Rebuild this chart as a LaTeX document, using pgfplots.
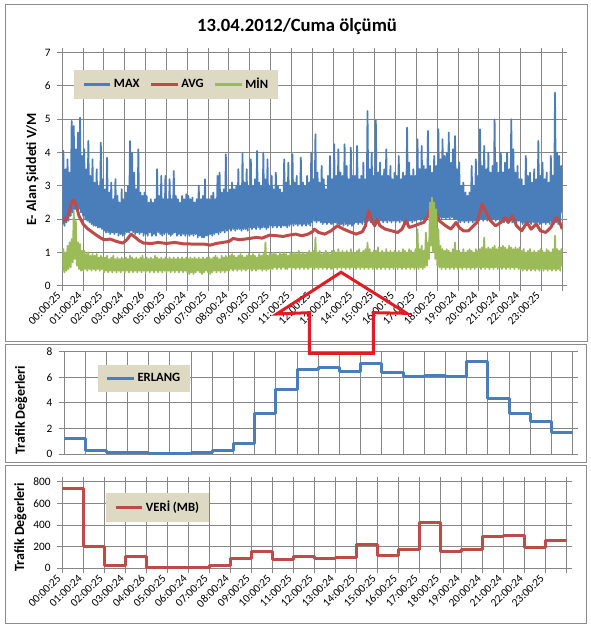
\documentclass[border=0pt]{standalone}
\usepackage{fontspec}
\setmainfont{Carlito}
\usepackage{pgfplots}
\pgfplotsset{compat=1.18}

\definecolor{cblue}{HTML}{4A7EBB}
\definecolor{cred}{HTML}{BE4B48}
\definecolor{cgreen}{HTML}{9BBB59}
\definecolor{legbg}{HTML}{DDD9C3}
\definecolor{gridc}{HTML}{868686}
\definecolor{framec}{HTML}{8C8C8C}
\definecolor{arrowred}{HTML}{E31B23}

\pgfplotsset{
  panel/.style={
    scale only axis,
    xmin=0, xmax=24,
    xtick={0,...,24},
    grid=major,
    major grid style={gridc, line width=0.75pt},
    axis line style={gridc, line width=0.75pt},
    tick style={gridc, line width=0.75pt},
    tick align=outside,
    major tick length=3.75pt,
    tick label style={font=\fontsize{8.5}{10}\selectfont, black},
    /pgf/number format/assume math mode=true,
    yticklabel style={xshift=-1.5pt},
    legend cell align=left,
    legend image code/.code={\draw[##1, line width=2.25pt] (0pt,0pt) -- (20pt,0pt);},
    legend style={fill=legbg, draw=none, font=\bfseries\fontsize{9.5}{11}\selectfont,
      anchor=north west, inner xsep=6pt, inner ysep=4pt,
      nodes={inner xsep=1.5pt},
      /tikz/every even column/.append style={column sep=6pt}},
    ylabel style={font=\bfseries\fontsize{10.5}{12}\selectfont, anchor=center},
  },
  timelabels/.style={
    xticklabels={00:00:25,01:00:24,02:00:25,03:00:24,04:00:26,05:00:25,06:00:24,07:00:25,08:00:24,09:00:25,10:00:25,11:00:25,12:00:25,13:00:24,14:00:25,15:00:25,16:00:25,17:00:25,18:00:25,19:00:24,20:00:24,21:00:24,22:00:24,23:00:25,{}},
    xticklabel style={rotate=45, anchor=east, font=\fontsize{8.5}{10}\selectfont},
  },
}

\begin{document}
\begin{tikzpicture}
\path[use as bounding box] (0,0) rectangle (443.25pt,-471pt);
\fill[white] (0,0) rectangle (443.25pt,-471pt);
\draw[framec, line width=0.75pt] (3.75pt,-3pt) rectangle (440.25pt,-255.75pt);
\draw[framec, line width=0.75pt] (3.75pt,-258pt) rectangle (439.5pt,-346.5pt);
\draw[framec, line width=0.75pt] (3.75pt,-348.75pt) rectangle (439.5pt,-467.25pt);

\node[font=\bfseries\fontsize{14}{16}\selectfont] at (222.75pt,-20.25pt) {13.04.2012/Cuma ölçümü};

% ---------------- Panel 1 ----------------
\begin{axis}[panel, timelabels,
  at={(46.725pt,-214.275pt)}, anchor=south west,
  width=375pt, height=174.75pt,
  ymin=0, ymax=7, ytick={0,...,7},
  ylabel={E- Alan Şiddeti V/M},
  ylabel style={at={(axis description cs:-0.06,0.5)}},
  legend columns=3,
  legend style={at={(0.0234,0.926)}},
]
\addplot[cblue, line width=1.3pt, line join=round] coordinates {
(0,1.85)(0.05,4.05)(0.1,1.8)(0.15,3.5)(0.2,1.9)(0.25,3.8)(0.3,1.95)(0.35,3.4)(0.4,2.1)(0.45,4.95)(0.5,2.2)(0.55,4.8)(0.6,2.3)(0.65,4.1)(0.7,2.25)(0.75,4.6)(0.8,2.3)(0.85,5.05)(0.9,2.2)(0.95,3.9)
(1,2.1)(1.05,4.1)(1.1,2.0)(1.15,3.5)(1.2,1.95)(1.25,4.35)(1.3,1.9)(1.35,3.3)(1.4,1.85)(1.45,3.8)(1.5,1.8)(1.55,3.1)(1.6,1.8)(1.65,3.5)(1.7,1.75)(1.75,3.0)(1.8,1.75)(1.85,4.3)(1.9,1.7)(1.95,3.2)
(2,1.65)(2.05,2.9)(2.1,1.6)(2.15,3.85)(2.2,1.6)(2.25,2.8)(2.3,1.55)(2.35,3.1)(2.4,1.6)(2.45,2.6)(2.5,1.55)(2.55,3.2)(2.6,1.6)(2.65,2.7)(2.7,1.5)(2.75,2.5)(2.8,1.55)(2.85,2.9)(2.9,1.5)(2.95,2.6)
(3,1.55)(3.05,2.8)(3.1,1.6)(3.15,3.0)(3.2,1.6)(3.25,4.35)(3.3,1.65)(3.35,4.0)(3.4,1.6)(3.45,3.4)(3.5,1.55)(3.55,2.9)(3.6,1.6)(3.65,4.1)(3.7,1.55)(3.75,2.8)(3.8,1.6)(3.85,2.7)(3.9,1.5)(3.95,2.8)
(4,1.55)(4.05,2.7)(4.1,1.5)(4.15,2.5)(4.2,1.6)(4.25,2.6)(4.3,1.5)(4.35,2.5)(4.4,1.55)(4.45,2.6)(4.5,1.5)(4.55,3.5)(4.6,1.6)(4.65,2.7)(4.7,1.55)(4.75,3.3)(4.8,1.5)(4.85,2.6)(4.9,1.55)(4.95,3.3)
(5,1.6)(5.05,2.6)(5.1,1.55)(5.15,3.2)(5.2,1.5)(5.25,2.6)(5.3,1.55)(5.35,3.45)(5.4,1.6)(5.45,2.7)(5.5,1.5)(5.55,2.6)(5.6,1.55)(5.65,2.5)(5.7,1.5)(5.75,2.7)(5.8,1.55)(5.85,2.6)(5.9,1.5)(5.95,2.75)
(6,1.55)(6.05,2.7)(6.1,1.5)(6.15,2.6)(6.2,1.55)(6.25,2.65)(6.3,1.5)(6.35,2.5)(6.4,1.55)(6.45,2.6)(6.5,1.45)(6.55,3.0)(6.6,1.5)(6.65,2.6)(6.7,1.45)(6.75,2.7)(6.8,1.45)(6.85,3.2)(6.9,1.5)(6.95,2.6)
(7,1.5)(7.05,2.6)(7.1,1.55)(7.15,2.7)(7.2,1.5)(7.25,2.8)(7.3,1.55)(7.35,2.6)(7.4,1.6)(7.45,3.3)(7.5,1.55)(7.55,3.4)(7.6,1.6)(7.65,2.8)(7.7,1.65)(7.75,2.9)(7.8,1.6)(7.85,3.95)(7.9,1.65)(7.95,2.8)
(8,1.7)(8.05,2.9)(8.1,1.65)(8.15,3.1)(8.2,1.7)(8.25,2.9)(8.3,1.65)(8.35,3.0)(8.4,1.7)(8.45,3.5)(8.5,1.7)(8.55,3.0)(8.6,1.65)(8.65,3.97)(8.7,1.7)(8.75,3.1)(8.8,1.7)(8.85,3.5)(8.9,1.65)(8.95,3.0)
(9,1.75)(9.05,3.8)(9.1,1.7)(9.15,3.0)(9.2,1.75)(9.25,3.2)(9.3,1.7)(9.35,4.05)(9.4,1.75)(9.45,3.1)(9.5,1.7)(9.55,3.0)(9.6,1.75)(9.65,4.0)(9.7,1.75)(9.75,3.2)(9.8,1.7)(9.85,3.8)(9.9,1.75)(9.95,3.0)
(10,1.8)(10.05,3.3)(10.1,1.75)(10.15,2.9)(10.2,1.8)(10.25,3.4)(10.3,1.75)(10.35,3.0)(10.4,1.8)(10.45,2.9)(10.5,1.75)(10.55,2.8)(10.6,1.8)(10.65,3.8)(10.7,1.8)(10.75,3.1)(10.8,1.75)(10.85,3.7)(10.9,1.8)(10.95,3.0)
(11,1.85)(11.05,3.95)(11.1,1.8)(11.15,3.1)(11.2,1.85)(11.25,3.3)(11.3,1.8)(11.35,3.0)(11.4,1.85)(11.45,3.85)(11.5,1.8)(11.55,3.1)(11.6,1.85)(11.65,3.0)(11.7,1.8)(11.75,3.3)(11.8,1.85)(11.85,3.1)(11.9,1.8)(11.95,4.0)
(12,1.9)(12.05,3.2)(12.1,1.95)(12.15,4.55)(12.2,1.9)(12.25,3.4)(12.3,1.95)(12.35,3.1)(12.4,1.9)(12.45,3.6)(12.5,1.85)(12.55,3.2)(12.6,1.9)(12.65,2.9)(12.7,1.85)(12.75,3.3)(12.8,1.9)(12.85,3.9)(12.9,1.85)(12.95,3.2)
(13,1.85)(13.05,4.25)(13.1,1.9)(13.15,3.3)(13.2,1.85)(13.25,4.1)(13.3,1.8)(13.35,3.4)(13.4,1.85)(13.45,3.3)(13.5,1.8)(13.55,4.25)(13.6,1.85)(13.65,3.6)(13.7,1.8)(13.75,3.2)(13.8,1.85)(13.85,4.15)(13.9,1.8)(13.95,3.3)
(14,1.85)(14.05,3.3)(14.1,1.9)(14.15,4.2)(14.2,1.85)(14.25,3.2)(14.3,1.9)(14.35,3.3)(14.4,1.85)(14.45,3.7)(14.5,1.9)(14.55,3.2)(14.6,1.95)(14.65,5.25)(14.7,1.95)(14.75,3.5)(14.8,1.9)(14.85,4.0)(14.9,1.95)(14.95,3.3)
(15,1.9)(15.05,4.97)(15.1,1.95)(15.15,3.4)(15.2,1.9)(15.25,3.7)(15.3,1.95)(15.35,3.3)(15.4,1.9)(15.45,3.5)(15.5,1.95)(15.55,4.1)(15.6,1.9)(15.65,3.3)(15.7,1.95)(15.75,3.6)(15.8,1.9)(15.85,3.2)(15.9,1.95)(15.95,3.4)
(16,1.9)(16.05,3.3)(16.1,1.95)(16.15,3.9)(16.2,1.9)(16.25,3.2)(16.3,1.95)(16.35,3.4)(16.4,1.9)(16.45,3.3)(16.5,1.95)(16.55,4.75)(16.6,1.9)(16.65,3.7)(16.7,1.95)(16.75,3.3)(16.8,1.9)(16.85,3.5)(16.9,1.95)(16.95,3.3)
(17,1.95)(17.05,4.4)(17.1,2.0)(17.15,3.5)(17.2,1.95)(17.25,4.2)(17.3,2.0)(17.35,3.6)(17.4,1.95)(17.45,3.5)(17.5,2.0)(17.55,4.65)(17.6,2.05)(17.65,3.6)(17.7,2.0)(17.75,3.4)(17.8,2.05)(17.85,3.9)(17.9,2.0)(17.95,3.6)
(18,2.0)(18.05,4.7)(18.1,2.05)(18.15,3.8)(18.2,2.0)(18.25,4.4)(18.3,2.05)(18.35,3.9)(18.4,2.0)(18.45,4.0)(18.5,2.05)(18.55,4.6)(18.6,2.0)(18.65,3.7)(18.7,2.05)(18.75,4.1)(18.8,2.0)(18.85,4.5)(18.9,2.0)(18.95,3.5)
(19,1.95)(19.05,3.7)(19.1,1.9)(19.15,3.0)(19.2,1.95)(19.25,3.1)(19.3,1.9)(19.35,2.8)(19.4,1.95)(19.45,2.7)(19.5,1.9)(19.55,2.8)(19.6,1.95)(19.65,3.6)(19.7,1.9)(19.75,3.0)(19.8,1.95)(19.85,3.8)(19.9,1.9)(19.95,3.3)
(20,1.95)(20.05,4.7)(20.1,2.0)(20.15,3.6)(20.2,1.95)(20.25,4.2)(20.3,2.0)(20.35,3.5)(20.4,1.95)(20.45,4.0)(20.5,2.0)(20.55,3.4)(20.6,1.95)(20.65,3.6)(20.7,2.0)(20.75,5.0)(20.8,1.95)(20.85,3.7)(20.9,2.0)(20.95,3.4)
(21,1.9)(21.05,4.0)(21.1,1.95)(21.15,3.4)(21.2,1.9)(21.25,3.7)(21.3,1.95)(21.35,4.0)(21.4,1.9)(21.45,3.5)(21.5,1.95)(21.55,5.0)(21.6,1.9)(21.65,4.1)(21.7,1.95)(21.75,3.4)(21.8,1.9)(21.85,3.6)(21.9,1.95)(21.95,3.2)
(22,1.9)(22.05,3.2)(22.1,1.85)(22.15,3.0)(22.2,1.9)(22.25,3.9)(22.3,1.85)(22.35,3.3)(22.4,1.9)(22.45,3.4)(22.5,1.85)(22.55,3.1)(22.6,1.9)(22.65,3.5)(22.7,1.85)(22.75,3.2)(22.8,1.9)(22.85,4.35)(22.9,1.85)(22.95,3.3)
(23,1.85)(23.05,3.7)(23.1,1.9)(23.15,3.2)(23.2,1.85)(23.25,3.4)(23.3,1.9)(23.35,3.1)(23.4,1.85)(23.45,3.9)(23.5,1.9)(23.55,3.3)(23.6,1.85)(23.65,5.8)(23.7,1.9)(23.75,4.0)(23.8,1.85)(23.85,3.9)(23.9,1.9)(23.95,3.6)(24,2.2)
};
\addlegendentry{MAX}
\addplot[cred, line width=2.25pt, line join=round] coordinates {
(0,2.0)(0.15,1.95)(0.3,2.15)(0.45,2.5)(0.55,2.58)(0.65,2.45)(0.8,2.1)(1.0,1.85)(1.2,1.72)(1.5,1.58)
(1.8,1.45)(2.0,1.38)(2.3,1.4)(2.6,1.33)(2.9,1.28)(3.1,1.38)(3.3,1.55)(3.45,1.48)(3.7,1.35)(3.9,1.28)
(4.3,1.27)(4.6,1.3)(5.0,1.27)(5.4,1.3)(5.8,1.26)(6.3,1.25)(6.8,1.25)(7.1,1.22)(7.4,1.27)(7.7,1.3)
(8.0,1.33)(8.2,1.42)(8.5,1.38)(9.0,1.42)(9.3,1.45)(9.6,1.43)(9.95,1.52)(10.3,1.5)(10.6,1.48)(10.9,1.52)
(11.2,1.55)(11.5,1.5)(11.8,1.55)(12.0,1.62)(12.1,1.7)(12.3,1.6)(12.6,1.55)(12.9,1.65)(13.2,1.8)(13.5,1.7)
(13.8,1.62)(14.1,1.55)(14.4,1.62)(14.55,1.8)(14.7,2.25)(14.85,1.95)(15.0,1.8)(15.1,2.0)(15.25,1.8)(15.5,1.7)
(15.8,1.65)(16.1,1.6)(16.3,1.7)(16.5,1.95)(16.65,1.75)(16.9,1.8)(17.1,1.85)(17.35,1.9)(17.55,2.1)(17.7,2.4)
(17.85,2.3)(18.0,2.1)(18.1,1.95)(18.4,1.8)(18.65,1.7)(18.9,1.9)(19.05,1.75)(19.25,1.65)(19.5,1.65)(19.65,1.75)
(19.9,1.9)(20.15,2.45)(20.35,2.2)(20.55,1.95)(20.8,1.8)(21.05,1.9)(21.25,2.05)(21.4,1.9)(21.6,2.1)(21.8,1.8)
(22.05,1.65)(22.3,1.9)(22.5,1.7)(22.75,1.85)(22.95,1.65)(23.2,1.6)(23.45,1.75)(23.7,2.05)(23.85,1.95)(24,1.7)
};
\addlegendentry{AVG}
\addplot[cgreen, line width=1.3pt, line join=round] coordinates {
(0,0.45)(0.05,1.1)(0.1,0.4)(0.15,1.0)(0.2,0.45)(0.25,1.2)(0.3,0.5)(0.35,1.3)(0.4,0.55)(0.45,1.4)(0.5,0.7)(0.55,2.25)(0.6,0.8)(0.65,1.95)(0.7,0.6)(0.75,1.3)(0.8,0.5)(0.85,1.25)(0.9,0.45)(0.95,1.05)
(1,0.45)(1.05,1.05)(1.1,0.5)(1.15,0.95)(1.2,0.45)(1.25,1.0)(1.3,0.5)(1.35,0.9)(1.4,0.45)(1.45,0.95)(1.5,0.5)(1.55,0.9)(1.6,0.45)(1.65,0.95)(1.7,0.5)(1.75,0.85)(1.8,0.45)(1.85,0.9)(1.9,0.5)(1.95,0.85)
(2,0.4)(2.05,0.85)(2.1,0.45)(2.15,0.9)(2.2,0.4)(2.25,0.8)(2.3,0.45)(2.35,0.85)(2.4,0.4)(2.45,0.9)(2.5,0.45)(2.55,0.8)(2.6,0.4)(2.65,0.85)(2.7,0.45)(2.75,0.8)(2.8,0.4)(2.85,0.85)(2.9,0.45)(2.95,0.8)
(3,0.4)(3.05,0.85)(3.1,0.45)(3.15,0.8)(3.2,0.4)(3.25,0.9)(3.3,0.45)(3.35,0.85)(3.4,0.4)(3.45,0.8)(3.5,0.45)(3.55,0.85)(3.6,0.4)(3.65,0.8)(3.7,0.45)(3.75,0.85)(3.8,0.4)(3.85,0.9)(3.9,0.45)(3.95,0.8)
(4,0.4)(4.05,0.85)(4.1,0.45)(4.15,0.8)(4.2,0.4)(4.25,0.85)(4.3,0.45)(4.35,0.8)(4.4,0.4)(4.45,0.9)(4.5,0.45)(4.55,0.85)(4.6,0.4)(4.65,0.8)(4.7,0.45)(4.75,0.85)(4.8,0.4)(4.85,0.8)(4.9,0.45)(4.95,0.85)
(5,0.4)(5.05,0.8)(5.1,0.45)(5.15,0.85)(5.2,0.4)(5.25,0.8)(5.3,0.45)(5.35,0.85)(5.4,0.4)(5.45,0.8)(5.5,0.45)(5.55,0.85)(5.6,0.4)(5.65,0.8)(5.7,0.45)(5.75,0.85)(5.8,0.4)(5.85,0.8)(5.9,0.45)(5.95,0.85)
(6,0.4)(6.05,0.8)(6.1,0.35)(6.15,0.85)(6.2,0.4)(6.25,0.8)(6.3,0.35)(6.35,0.85)(6.4,0.4)(6.45,0.8)(6.5,0.45)(6.55,0.85)(6.6,0.4)(6.65,0.8)(6.7,0.35)(6.75,0.85)(6.8,0.4)(6.85,0.8)(6.9,0.45)(6.95,0.85)
(7,0.4)(7.05,0.85)(7.1,0.35)(7.15,0.8)(7.2,0.4)(7.25,0.85)(7.3,0.45)(7.35,0.9)(7.4,0.4)(7.45,0.85)(7.5,0.45)(7.55,0.8)(7.6,0.4)(7.65,0.9)(7.7,0.45)(7.75,0.85)(7.8,0.4)(7.85,0.9)(7.9,0.45)(7.95,0.85)
(8,0.45)(8.05,0.9)(8.1,0.5)(8.15,0.95)(8.2,0.45)(8.25,0.9)(8.3,0.5)(8.35,0.85)(8.4,0.45)(8.45,0.9)(8.5,0.5)(8.55,0.95)(8.6,0.45)(8.65,0.9)(8.7,0.5)(8.75,0.85)(8.8,0.45)(8.85,0.9)(8.9,0.5)(8.95,0.95)
(9,0.5)(9.05,0.9)(9.1,0.45)(9.15,0.95)(9.2,0.5)(9.25,0.9)(9.3,0.45)(9.35,0.85)(9.4,0.5)(9.45,0.95)(9.5,0.5)(9.55,0.9)(9.6,0.45)(9.65,0.95)(9.7,0.5)(9.75,1.3)(9.8,0.45)(9.85,0.9)(9.9,0.5)(9.95,0.95)
(10,0.5)(10.05,0.95)(10.1,0.5)(10.15,1.0)(10.2,0.55)(10.25,0.95)(10.3,0.5)(10.35,0.9)(10.4,0.55)(10.45,1.0)(10.5,0.5)(10.55,0.95)(10.6,0.55)(10.65,1.0)(10.7,0.5)(10.75,0.95)(10.8,0.5)(10.85,0.9)(10.9,0.55)(10.95,1.0)
(11,0.5)(11.05,0.95)(11.1,0.55)(11.15,1.0)(11.2,0.5)(11.25,0.95)(11.3,0.55)(11.35,1.05)(11.4,0.5)(11.45,0.95)(11.5,0.55)(11.55,1.0)(11.6,0.5)(11.65,0.95)(11.7,0.55)(11.75,1.0)(11.8,0.5)(11.85,1.05)(11.9,0.55)(11.95,1.0)
(12,0.55)(12.05,1.05)(12.1,0.5)(12.15,1.45)(12.2,0.55)(12.25,1.0)(12.3,0.5)(12.35,1.05)(12.4,0.55)(12.45,0.95)(12.5,0.5)(12.55,1.0)(12.6,0.55)(12.65,1.05)(12.7,0.5)(12.75,1.0)(12.8,0.55)(12.85,0.95)(12.9,0.5)(12.95,1.05)
(13,0.5)(13.05,1.05)(13.1,0.55)(13.15,1.0)(13.2,0.5)(13.25,1.1)(13.3,0.55)(13.35,1.0)(13.4,0.5)(13.45,1.05)(13.5,0.55)(13.55,1.0)(13.6,0.5)(13.65,1.05)(13.7,0.55)(13.75,1.0)(13.8,0.5)(13.85,1.1)(13.9,0.55)(13.95,1.0)
(14,0.55)(14.05,1.0)(14.1,0.5)(14.15,1.05)(14.2,0.55)(14.25,1.1)(14.3,0.5)(14.35,1.0)(14.4,0.55)(14.45,1.05)(14.5,0.5)(14.55,1.1)(14.6,0.55)(14.65,1.3)(14.7,0.5)(14.75,1.1)(14.8,0.55)(14.85,1.0)(14.9,0.5)(14.95,1.05)
(15,0.55)(15.05,1.05)(15.1,0.5)(15.15,1.15)(15.2,0.55)(15.25,1.0)(15.3,0.5)(15.35,1.05)(15.4,0.55)(15.45,1.0)(15.5,0.5)(15.55,1.1)(15.6,0.55)(15.65,1.0)(15.7,0.5)(15.75,1.05)(15.8,0.55)(15.85,1.0)(15.9,0.5)(15.95,1.05)
(16,0.55)(16.05,1.0)(16.1,0.5)(16.15,1.05)(16.2,0.55)(16.25,1.0)(16.3,0.5)(16.35,1.1)(16.4,0.55)(16.45,1.05)(16.5,0.5)(16.55,1.0)(16.6,0.55)(16.65,1.1)(16.7,0.5)(16.75,1.05)(16.8,0.55)(16.85,1.0)(16.9,0.5)(16.95,1.1)
(17,0.55)(17.05,1.7)(17.1,0.5)(17.15,1.1)(17.2,0.55)(17.25,1.2)(17.3,0.5)(17.35,1.05)(17.4,0.55)(17.45,1.6)(17.5,0.6)(17.55,1.3)(17.6,0.8)(17.65,2.5)(17.7,1.2)(17.75,2.65)(17.8,1.0)(17.85,2.5)(17.9,0.8)(17.95,2.3)
(18,0.6)(18.05,1.7)(18.1,0.55)(18.15,1.2)(18.2,0.5)(18.25,1.1)(18.3,0.55)(18.35,1.05)(18.4,0.5)(18.45,1.1)(18.5,0.55)(18.55,1.05)(18.6,0.5)(18.65,1.0)(18.7,0.55)(18.75,1.1)(18.8,0.5)(18.85,1.3)(18.9,0.55)(18.95,1.05)
(19,0.5)(19.05,1.05)(19.1,0.55)(19.15,1.0)(19.2,0.5)(19.25,1.1)(19.3,0.55)(19.35,1.0)(19.4,0.5)(19.45,1.05)(19.5,0.55)(19.55,1.1)(19.6,0.5)(19.65,1.05)(19.7,0.55)(19.75,1.0)(19.8,0.5)(19.85,1.1)(19.9,0.55)(19.95,1.05)
(20,0.55)(20.05,1.1)(20.1,0.5)(20.15,1.15)(20.2,0.55)(20.25,1.45)(20.3,0.5)(20.35,1.1)(20.4,0.55)(20.45,1.15)(20.5,0.5)(20.55,1.1)(20.6,0.55)(20.65,1.15)(20.7,0.5)(20.75,1.2)(20.8,0.55)(20.85,1.1)(20.9,0.5)(20.95,1.15)
(21,0.55)(21.05,1.15)(21.1,0.5)(21.15,1.2)(21.2,0.55)(21.25,1.15)(21.3,0.5)(21.35,1.1)(21.4,0.55)(21.45,1.2)(21.5,0.5)(21.55,1.15)(21.6,0.55)(21.65,1.1)(21.7,0.5)(21.75,1.15)(21.8,0.55)(21.85,1.1)(21.9,0.5)(21.95,1.15)
(22,0.5)(22.05,1.05)(22.1,0.45)(22.15,1.1)(22.2,0.5)(22.25,1.0)(22.3,0.45)(22.35,1.05)(22.4,0.5)(22.45,1.1)(22.5,0.45)(22.55,1.0)(22.6,0.5)(22.65,1.05)(22.7,0.45)(22.75,1.0)(22.8,0.5)(22.85,1.05)(22.9,0.45)(22.95,1.1)
(23,0.5)(23.05,1.05)(23.1,0.45)(23.15,1.0)(23.2,0.5)(23.25,1.1)(23.3,0.45)(23.35,1.05)(23.4,0.5)(23.45,1.0)(23.5,0.45)(23.55,1.1)(23.6,0.5)(23.65,1.5)(23.7,0.45)(23.75,1.1)(23.8,0.5)(23.85,1.05)(23.9,0.45)(23.95,1.1)(24,0.6)
};
\addlegendentry{MİN}
\end{axis}

% ---------------- Panel 2 ----------------
\begin{axis}[panel,
  at={(48pt,-340.5pt)}, anchor=south west,
  width=381.5pt, height=76.7pt,
  ymin=0, ymax=8, ytick={0,2,...,8},
  xmajorticks=false,
  ylabel={Trafik Değerleri},
  ylabel style={at={(axis description cs:-0.0845,0.43)}},
  legend style={at={(0.066,0.87)}},
]
\addplot[cblue, line width=2.25pt, const plot, line join=round] coordinates {
(0,1.25)(1,0.25)(2,0.08)(3,0.12)(4,0.07)(5,0.03)(6,0.12)(7,0.25)(8,0.85)(9,3.2)
(10,5.05)(11,6.6)(12,6.75)(13,6.45)(14,7.08)(15,6.35)(16,6.1)(17,6.15)(18,6.1)(19,7.25)
(20,4.35)(21,3.2)(22,2.58)(23,1.7)(24,1.7)
};
\addlegendentry{ERLANG}
\end{axis}

% ---------------- Panel 3 ----------------
\begin{axis}[panel, timelabels,
  at={(46.725pt,-426.225pt)}, anchor=south west,
  width=378.2pt, height=64.95pt,
  ymin=0, ymax=800, ytick={0,200,...,800},
  ylabel={Trafik Değerleri},
  ylabel style={at={(axis description cs:-0.083,0.477)}},
  legend style={at={(0.0867,0.873)}},
]
\addplot[cred, line width=2.25pt, const plot, line join=round] coordinates {
(0,740)(1,203)(2,28)(3,111)(4,10)(5,10)(6,10)(7,28)(8,93)(9,153)
(10,78)(11,109)(12,93)(13,103)(14,218)(15,121)(16,171)(17,420)(18,153)(19,178)
(20,290)(21,299)(22,196)(23,255)(24,255)
};
\addlegendentry{VERİ (MB)}
\end{axis}

\draw[arrowred, line width=2.25pt, line join=miter]
  (255.75pt,-204.2pt) -- (207.5pt,-235.5pt) -- (232pt,-234.5pt) -- (232pt,-265pt)
  -- (280pt,-265pt) -- (280pt,-234.5pt) -- (305pt,-235pt) -- cycle;
\end{tikzpicture}
\end{document}
